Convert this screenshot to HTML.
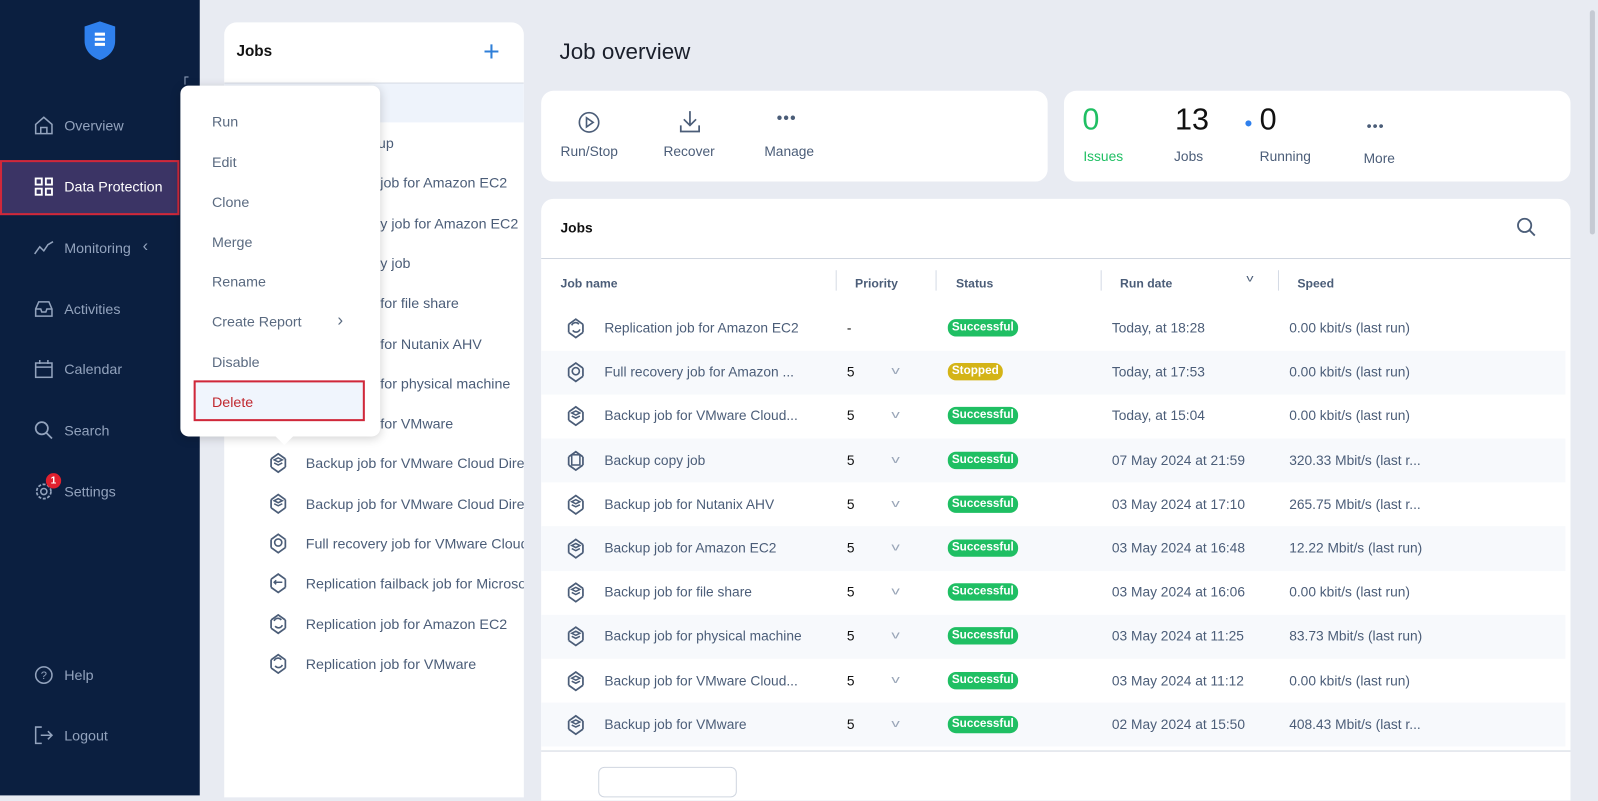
<!DOCTYPE html>
<html><head><meta charset="utf-8"><style>
*{margin:0;padding:0;box-sizing:border-box}
html,body{width:1598px;height:775px;overflow:hidden;background:#e8ebf2;font-family:"Liberation Sans",Arial,sans-serif}
#w{position:absolute;left:0;top:0;width:1568px;height:760px;transform:scale(1.01913,1.01974);transform-origin:0 0}
.a{position:absolute;white-space:nowrap}
.sb{left:0;top:0;width:196px;height:780px;background:#0b1f40}
.nav{color:#93a3bd;font-size:14px}
.ni{position:absolute;left:33px;width:20px;height:20px}
.card{background:#fff;border-radius:12px}
.li{font-size:14px;color:#4b5d78}
.mi{font-size:14px;color:#5a6a80;left:208px}
.th{font-size:12px;font-weight:bold;color:#4b5d78}
.td{font-size:13.5px;color:#4b5d78}
.badge{font-size:11.5px;font-weight:bold;color:#fff;background:#1fbf63;border-radius:8px;padding:1px 4px;height:17px;line-height:15px}
.sep{position:absolute;width:1px;height:20px;background:#d5dbe5;top:265px}
</style></head><body><div id="w">
<div class="a sb"></div>
<svg class="a" style="left:82px;top:20px" width="32" height="40" viewBox="0 0 32 40"><path d="M16 1 L31 6 V20 C31 30 24 36 16 39 C8 36 1 30 1 20 V6 Z" fill="#2f80ed"/><rect x="11" y="12" width="10" height="3" fill="#fff"/><rect x="11" y="17" width="10" height="3" fill="#fff"/><rect x="11" y="22" width="10" height="3" fill="#fff"/></svg>
<div class="a" style="left:181px;top:75px;width:4px;height:8px;border-left:1px solid #93a3bd;border-top:1px solid #93a3bd"></div>
<svg class="ni" style="top:113px" viewBox="0 0 20 20"><path d="M2 9 L10 2 L18 9 V18 H2 Z M7 18 V12 H13 V18" fill="none" stroke="#93a3bd" stroke-width="1.5"/></svg>
<div class="a nav" style="left:63px;top:115px">Overview</div>
<div class="a" style="left:0;top:157px;width:176px;height:54px;background:#3b3465;border:2px solid #d0283a"></div>
<svg class="ni" style="top:173px" viewBox="0 0 20 20"><g fill="none" stroke="#fff" stroke-width="1.8"><rect x="2" y="2" width="6" height="6"/><rect x="12" y="2" width="6" height="6"/><rect x="2" y="12" width="6" height="6"/><rect x="12" y="12" width="6" height="6"/></g></svg>
<div class="a" style="left:63px;top:175px;color:#fff;font-size:14px">Data Protection</div>
<svg class="ni" style="top:233px" viewBox="0 0 20 20"><path d="M1 16 L6 9 L10 13 L14 7 L19 4" fill="none" stroke="#93a3bd" stroke-width="1.5"/></svg>
<div class="a nav" style="left:63px;top:235px">Monitoring</div>
<div class="a nav" style="left:140px;top:233px;font-size:16px">‹</div>
<svg class="ni" style="top:293px" viewBox="0 0 20 20"><path d="M2 10 L5 3 H15 L18 10 V17 H2 Z M2 10 H7 L8 13 H12 L13 10 H18" fill="none" stroke="#93a3bd" stroke-width="1.5"/></svg>
<div class="a nav" style="left:63px;top:295px">Activities</div>
<svg class="ni" style="top:352px" viewBox="0 0 20 20"><rect x="2" y="4" width="16" height="14" fill="none" stroke="#93a3bd" stroke-width="1.5"/><path d="M2 8 H18 M6 1 V5 M14 1 V5" stroke="#93a3bd" stroke-width="1.5"/></svg>
<div class="a nav" style="left:63px;top:354px">Calendar</div>
<svg class="ni" style="top:412px" viewBox="0 0 20 20"><circle cx="8" cy="8" r="6" fill="none" stroke="#93a3bd" stroke-width="1.7"/><path d="M12.5 12.5 L18 18" stroke="#93a3bd" stroke-width="1.7"/></svg>
<div class="a nav" style="left:63px;top:414px">Search</div>
<svg class="ni" style="top:472px" viewBox="0 0 20 20"><circle cx="10" cy="10" r="7" fill="none" stroke="#93a3bd" stroke-width="1.7" stroke-dasharray="3 1.5"/><circle cx="10" cy="10" r="3" fill="none" stroke="#93a3bd" stroke-width="1.5"/></svg>
<div class="a" style="left:45px;top:464px;width:15px;height:15px;border-radius:50%;background:#e0202e;color:#fff;font-size:10px;text-align:center;line-height:15px;font-weight:bold">1</div>
<div class="a nav" style="left:63px;top:474px">Settings</div>
<svg class="ni" style="top:652px" viewBox="0 0 20 20"><circle cx="10" cy="10" r="8" fill="none" stroke="#93a3bd" stroke-width="1.5"/><text x="10" y="14" font-size="11" text-anchor="middle" fill="#93a3bd" font-family="Liberation Sans">?</text></svg>
<div class="a nav" style="left:63px;top:654px">Help</div>
<svg class="ni" style="top:711px" viewBox="0 0 20 20"><path d="M8 2 H2 V18 H8 M7 10 H18 M14 6 L18 10 L14 14" fill="none" stroke="#93a3bd" stroke-width="1.5"/></svg>
<div class="a nav" style="left:63px;top:713px">Logout</div>

<div class="a" style="left:220px;top:22px;width:294px;height:760px;background:#fff;border-radius:12px 12px 0 0;overflow:hidden">
<div class="a" style="left:12px;top:20px;font-size:15px;font-weight:bold;color:#111">Jobs</div>
<div class="a" style="left:254px;top:13px;font-size:28px;color:#2f7fd8;font-weight:300">+</div>
<div class="a" style="left:0;top:59px;width:294px;height:1px;background:#d0d6e0"></div>
<div class="a" style="left:0;top:60px;width:294px;height:38px;background:#eef3fb"></div>
</div>
<div class="a" style="left:220px;top:22px;width:294px;height:760px;overflow:hidden">
<div id="lst"></div>
</div>

<div class="a" style="left:177px;top:84px;width:196px;height:344px;background:#fff;border-radius:8px;box-shadow:0 2px 10px rgba(0,0,0,.18)"></div>
<div class="a" style="left:273px;top:422px;width:12px;height:12px;background:#fff;transform:rotate(45deg)"></div>
<div class="a mi" style="top:111px">Run</div>
<div class="a mi" style="top:151px">Edit</div>
<div class="a mi" style="top:190px">Clone</div>
<div class="a mi" style="top:229px">Merge</div>
<div class="a mi" style="top:268px">Rename</div>
<div class="a mi" style="top:307px">Create Report</div>
<div class="a mi" style="left:331px;top:304px;font-size:17px">›</div>
<div class="a mi" style="top:347px">Disable</div>
<div class="a" style="left:190px;top:373px;width:168px;height:40px;background:#f0f5fd;border:2px solid #d0283a"></div>
<div class="a mi" style="top:386px;color:#c0282f">Delete</div>

<div class="a" style="left:549px;top:38px;font-size:22px;color:#1a1f2b">Job overview</div>

<div class="a card" style="left:531px;top:89px;width:497px;height:89px"></div>
<svg class="a" style="left:567px;top:109px" width="22" height="22" viewBox="0 0 22 22"><circle cx="11" cy="11" r="9.5" fill="none" stroke="#4b5d78" stroke-width="1.6"/><path d="M8.5 6.5 L15 11 L8.5 15.5 Z" fill="none" stroke="#4b5d78" stroke-width="1.6"/></svg>
<svg class="a" style="left:666px;top:108px" width="22" height="24" viewBox="0 0 22 24"><path d="M11 1 V15 M5 9 L11 15 L17 9 M2 15 V21 H20 V15" fill="none" stroke="#4b5d78" stroke-width="1.7"/></svg>
<div class="a" style="left:762px;top:108px;font-size:16px;color:#4b5d78;letter-spacing:1px">•••</div>
<div class="a td" style="left:550px;top:141px">Run/Stop</div>
<div class="a td" style="left:651px;top:141px">Recover</div>
<div class="a td" style="left:750px;top:141px">Manage</div>

<div class="a card" style="left:1044px;top:89px;width:497px;height:89px"></div>
<div class="a" style="left:1062px;top:101px;font-size:30px;color:#1fbf63">0</div>
<div class="a" style="left:1063px;top:146px;font-size:13.5px;color:#1fbf63">Issues</div>
<div class="a" style="left:1153px;top:101px;font-size:30px;color:#111">13</div>
<div class="a td" style="left:1152px;top:146px">Jobs</div>
<div class="a" style="left:1222px;top:118px;width:6px;height:6px;border-radius:50%;background:#2f80ed"></div>
<div class="a" style="left:1236px;top:101px;font-size:30px;color:#111">0</div>
<div class="a td" style="left:1236px;top:146px">Running</div>
<div class="a" style="left:1341px;top:115px;font-size:14px;color:#4b5d78;letter-spacing:1px">•••</div>
<div class="a td" style="left:1338px;top:148px">More</div>

<div class="a card" style="left:531px;top:195px;width:1010px;height:590px;border-radius:12px 12px 0 0"></div>
<div class="a" style="left:550px;top:216px;font-size:13.5px;font-weight:bold;color:#111">Jobs</div>
<svg class="a" style="left:1488px;top:213px" width="20" height="20" viewBox="0 0 20 20"><circle cx="8" cy="8" r="6.5" fill="none" stroke="#4b5d78" stroke-width="1.8"/><path d="M13 13 L18 18" stroke="#4b5d78" stroke-width="1.8"/></svg>
<div class="a" style="left:531px;top:253px;width:1010px;height:1px;background:#d0d6e0"></div>
<div class="a th" style="left:550px;top:271px">Job name</div>
<div class="a th" style="left:839px;top:271px">Priority</div>
<div class="a th" style="left:938px;top:271px">Status</div>
<div class="a th" style="left:1099px;top:271px">Run date</div>
<div class="a th" style="left:1273px;top:271px">Speed</div>
<div class="a" style="left:1224px;top:268px;font-size:10px;color:#4b5d78;transform:scaleX(1.4)">v</div>
<div class="sep" style="left:820px"></div><div class="sep" style="left:918px"></div><div class="sep" style="left:1080px"></div><div class="sep" style="left:1254px"></div>
<div id="rows"></div>
<div class="a" style="left:531px;top:736px;width:1010px;height:1px;background:#d0d6e0"></div>
<div class="a" style="left:587px;top:752px;width:136px;height:30px;border:1px solid #d0d6e0;border-radius:6px;background:#fff"></div>

<div class="a" style="left:1556px;top:0;width:12px;height:780px;background:#e8ebf2"></div>
<div class="a" style="left:1560px;top:10px;width:5px;height:220px;background:#c5cad3;border-radius:3px"></div>
</div>
<script>
function icon(t){
 var inner={r:'<path d="M7 9 A4 4 0 0 1 14 8 M15 13 A4 4 0 0 1 8 14" fill="none" stroke="#4b5d78" stroke-width="1.6"/>',
  f:'<circle cx="11" cy="11" r="3.5" fill="none" stroke="#4b5d78" stroke-width="1.6"/>',
  b:'<path d="M7 9 L11 7 L15 9 L11 11 Z M7 12 L11 14 L15 12" fill="none" stroke="#4b5d78" stroke-width="1.5"/>',
  c:'<rect x="7" y="6" width="8" height="10" fill="none" stroke="#4b5d78" stroke-width="1.5"/>',
  k:'<path d="M7 11 H15 M9 9 L7 11 L9 13" fill="none" stroke="#4b5d78" stroke-width="1.5"/>'}[t];
 return '<svg width="22" height="24" viewBox="0 0 22 24"><path d="M4 8 L11 3 L18 8 M4 8 V16 M18 8 V16 M4 16 L11 21 L18 16" fill="none" stroke="#4b5d78" stroke-width="1.7"/>'+inner+'</svg>';
}
var L=[['b','Backup group'],['r','Replication job for Amazon EC2'],['f','Full recovery job for Amazon EC2'],['c','Backup copy job'],['b','Backup job for file share'],['b','Backup job for Nutanix AHV'],['b','Backup job for physical machine'],['b','Backup job for VMware'],['b','Backup job for VMware Cloud Director'],['b','Backup job for VMware Cloud Director 2'],['f','Full recovery job for VMware Cloud Director'],['k','Replication failback job for Microsoft Hyper-V'],['r','Replication job for Amazon EC2'],['r','Replication job for VMware']];
var h='';L.forEach(function(x,i){var y=140+i*39.3-22;h+='<div class="a" style="left:42px;top:'+(y-12)+'px">'+icon(x[0])+'</div><div class="a li" style="left:80px;top:'+(y-8)+'px">'+x[1]+'</div>';});
document.getElementById('lst').innerHTML=h;
var R=[['r','Replication job for Amazon EC2','-','Successful','Today, at 18:28','0.00 kbit/s (last run)'],
['f','Full recovery job for Amazon ...','5','Stopped','Today, at 17:53','0.00 kbit/s (last run)'],
['b','Backup job for VMware Cloud...','5','Successful','Today, at 15:04','0.00 kbit/s (last run)'],
['c','Backup copy job','5','Successful','07 May 2024 at 21:59','320.33 Mbit/s (last r...'],
['b','Backup job for Nutanix AHV','5','Successful','03 May 2024 at 17:10','265.75 Mbit/s (last r...'],
['b','Backup job for Amazon EC2','5','Successful','03 May 2024 at 16:48','12.22 Mbit/s (last run)'],
['b','Backup job for file share','5','Successful','03 May 2024 at 16:06','0.00 kbit/s (last run)'],
['b','Backup job for physical machine','5','Successful','03 May 2024 at 11:25','83.73 Mbit/s (last run)'],
['b','Backup job for VMware Cloud...','5','Successful','03 May 2024 at 11:12','0.00 kbit/s (last run)'],
['b','Backup job for VMware','5','Successful','02 May 2024 at 15:50','408.43 Mbit/s (last r...']];
h='';R.forEach(function(x,i){var y=322+i*43.2;
 if(i%2)h+='<div class="a" style="left:531px;top:'+(y-21.6)+'px;width:1005px;height:43.2px;background:#f7f9fc"></div>';
 h+='<div class="a" style="left:554px;top:'+(y-12)+'px">'+icon(x[0])+'</div>';
 h+='<div class="a td" style="left:593px;top:'+(y-8)+'px">'+x[1]+'</div>';
 h+='<div class="a td" style="left:831px;top:'+(y-8)+'px;color:#111">'+x[2]+'</div>';
 if(x[2]!='-')h+='<div class="a" style="left:876px;top:'+(y-7)+'px;font-size:11px;color:#9aa6b8;transform:scaleX(1.5)">v</div>';
 var bg=x[3]=='Stopped'?'#d4b417':'#1fbf63';
 h+='<div class="a badge" style="left:930px;top:'+(y-9)+'px;background:'+bg+'">'+x[3]+'</div>';
 h+='<div class="a td" style="left:1091px;top:'+(y-8)+'px">'+x[4]+'</div>';
 h+='<div class="a td" style="left:1265px;top:'+(y-8)+'px">'+x[5]+'</div>';});
document.getElementById('rows').innerHTML=h;
</script>
</body></html>
